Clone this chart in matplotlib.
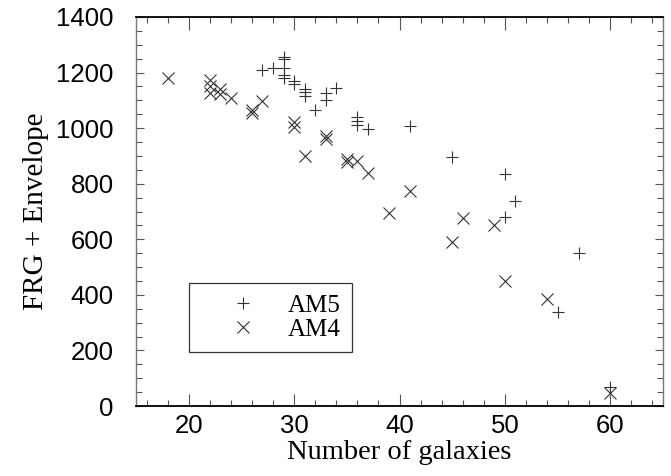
import matplotlib
matplotlib.use("Agg")
import matplotlib.pyplot as plt
from matplotlib.ticker import MultipleLocator

# AM5 series (plus markers)
am5_x = [27, 28, 29, 29, 29, 29, 29, 30, 30, 31, 31, 31, 32, 33, 33, 34,
         36, 36, 36, 37, 41, 45, 50, 50, 51, 55, 57, 60]
am5_y = [1210, 1215, 1255, 1250, 1215, 1190, 1182, 1168, 1160, 1140, 1130, 1115,
         1065, 1125, 1100, 1145, 1040, 1025, 1012, 996, 1008, 895, 835, 680,
         738, 340, 550, 70]

# AM4 series (cross markers)
am4_x = [18, 22, 22, 22, 23, 23, 24, 26, 26, 27, 30, 30, 31, 33, 33, 35, 35,
         36, 37, 39, 41, 45, 46, 49, 50, 54, 60]
am4_y = [1180, 1172, 1150, 1125, 1140, 1122, 1108, 1065, 1055, 1099, 1022, 1005,
         900, 972, 960, 890, 878, 882, 840, 695, 772, 590, 675, 651, 450, 385, 48]

labels = ["AM5", "AM4"]
xlabel = "Number of galaxies"
ylabel = "FRG + Envelope"

serif = ["Liberation Serif", "DejaVu Serif"]
sans = ["Liberation Sans", "DejaVu Sans"]

fig = plt.figure(figsize=(6.71, 4.76), dpi=100)
ax = fig.add_axes([136 / 671, 70 / 476, 527 / 671, 389 / 476])

mcol = "#333333"
ax.plot(am5_x, am5_y, linestyle="none", marker="+", markersize=9,
        markeredgewidth=0.8, color=mcol, label=labels[0])
ax.plot(am4_x, am4_y, linestyle="none", marker="x", markersize=9,
        markeredgewidth=0.8, color=mcol, label=labels[1])

ax.set_xlim(15, 65)
ax.set_ylim(0, 1400)
ax.xaxis.set_major_locator(MultipleLocator(10))
ax.xaxis.set_minor_locator(MultipleLocator(2))
ax.yaxis.set_major_locator(MultipleLocator(200))
ax.yaxis.set_minor_locator(MultipleLocator(50))

ax.tick_params(which="both", direction="in", top=True, right=True,
               color="#555555", width=0.8)
ax.tick_params(axis="x", which="major", length=9, pad=6)
ax.tick_params(axis="y", which="major", length=6, pad=16)
ax.tick_params(which="minor", length=4)

for lab in ax.get_xticklabels() + ax.get_yticklabels():
    lab.set_family(sans)
    lab.set_fontsize(18.5)

for side in ["top", "bottom"]:
    ax.spines[side].set_linewidth(1.3)
    ax.spines[side].set_color("black")
for side in ["left", "right"]:
    ax.spines[side].set_linewidth(1.0)
    ax.spines[side].set_color("#777777")

ax.set_xlabel(xlabel, family=serif, fontsize=20.5, labelpad=1)
ax.set_ylabel(ylabel, family=serif, fontsize=21, labelpad=5)

leg = ax.legend(loc="upper left", bbox_to_anchor=(0.1006, 0.316),
                prop={"family": serif, "size": 18}, frameon=True,
                fancybox=False, borderpad=0.45, handlelength=3.4,
                handletextpad=0.1, labelspacing=0.05, borderaxespad=0)
leg.get_frame().set_edgecolor("black")
leg.get_frame().set_linewidth(0.9)

fig.savefig("out.png", dpi=100)
